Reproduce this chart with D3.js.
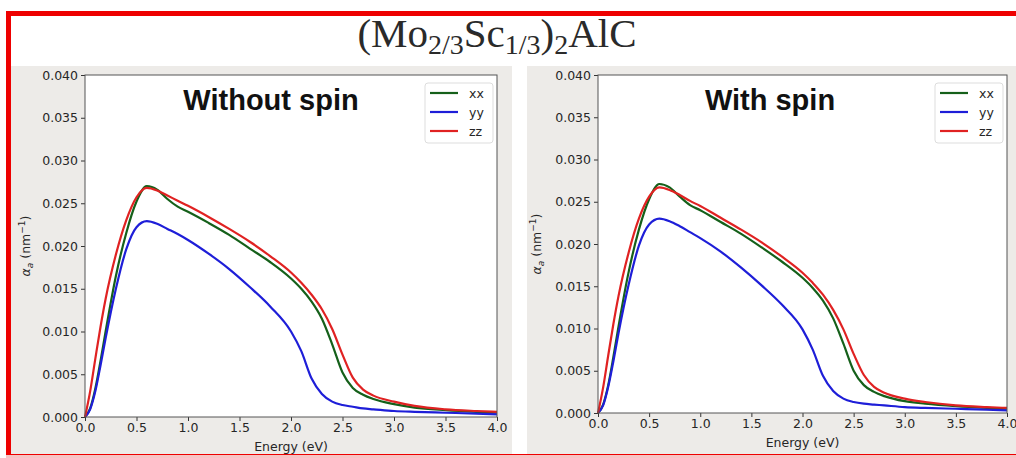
<!DOCTYPE html>
<html>
<head>
<meta charset="utf-8">
<script src="https://cdn.jsdelivr.net/npm/d3@7"></script>
<style>
  html, body { margin: 0; padding: 0; background: #ffffff; }
  svg { display: block; }
</style>
</head>
<body>
<svg id="chart" width="1016" height="458"></svg>
<script>
// Photon energy grid (eV)
const energy = [0, 0.05, 0.1, 0.15, 0.2, 0.3, 0.4, 0.5, 0.6, 0.7, 0.8, 0.9, 1.0, 1.2, 1.4, 1.6, 1.8,
                2.0, 2.1, 2.2, 2.3, 2.4, 2.5, 2.6, 2.7, 2.8, 3.0, 3.2, 3.5, 3.8, 4.0];

// Absorption coefficient (nm^-1), without spin
const noSpinXX = [0, 0.0010, 0.0033, 0.0065, 0.0100, 0.0165, 0.0215, 0.0252, 0.0270, 0.0266, 0.0255, 0.0246, 0.0240, 0.0227, 0.0213, 0.0197, 0.0181,
                  0.0162, 0.0150, 0.0135, 0.0115, 0.0085, 0.0052, 0.0034, 0.0026, 0.0021, 0.0015, 0.0011, 0.0008, 0.0006, 0.0005];
const noSpinYY = [0, 0.0009, 0.0030, 0.0060, 0.0092, 0.0150, 0.0196, 0.0222, 0.0229, 0.0226, 0.0220, 0.0214, 0.0207, 0.0191, 0.0173, 0.0152, 0.0129,
                  0.0100, 0.0077, 0.0045, 0.0027, 0.0018, 0.0014, 0.0012, 0.0010, 0.0009, 0.0007, 0.0006, 0.0005, 0.0004, 0.0003];
const noSpinZZ = [0, 0.0030, 0.0068, 0.0105, 0.0138, 0.0190, 0.0230, 0.0257, 0.0268, 0.0265, 0.0259, 0.0253, 0.0247, 0.0234, 0.0220, 0.0205, 0.0188,
                  0.0169, 0.0157, 0.0143, 0.0126, 0.0103, 0.0073, 0.0046, 0.0032, 0.0025, 0.0018, 0.0013, 0.0009, 0.0007, 0.0006];

// Absorption coefficient (nm^-1), with spin
const spinXX = [0, 0.0010, 0.0033, 0.0066, 0.0102, 0.0167, 0.0217, 0.0253, 0.0271, 0.0267, 0.0256, 0.0246, 0.0240, 0.0226, 0.0212, 0.0196, 0.0179,
                0.0160, 0.0148, 0.0133, 0.0112, 0.0082, 0.0050, 0.0033, 0.0025, 0.0020, 0.0014, 0.0011, 0.0008, 0.0006, 0.0005];
const spinYY = [0, 0.0009, 0.0031, 0.0061, 0.0094, 0.0152, 0.0198, 0.0223, 0.0230, 0.0227, 0.0221, 0.0214, 0.0207, 0.0191, 0.0172, 0.0151, 0.0128,
                0.0099, 0.0075, 0.0044, 0.0026, 0.0017, 0.0013, 0.0011, 0.0010, 0.0009, 0.0007, 0.0006, 0.0005, 0.0004, 0.0003];
const spinZZ = [0, 0.0030, 0.0068, 0.0105, 0.0138, 0.0190, 0.0230, 0.0256, 0.0267, 0.0264, 0.0258, 0.0251, 0.0245, 0.0231, 0.0217, 0.0202, 0.0185,
                0.0166, 0.0154, 0.0140, 0.0122, 0.0099, 0.0070, 0.0045, 0.0031, 0.0024, 0.0017, 0.0013, 0.0009, 0.0007, 0.0006];

const seriesNames = ["xx", "yy", "zz"];
const seriesColors = ["#15601a", "#1e1ed8", "#e02222"];
const xTicks = [0, 0.5, 1.0, 1.5, 2.0, 2.5, 3.0, 3.5, 4.0];
const yTicks = [0, 0.005, 0.010, 0.015, 0.020, 0.025, 0.030, 0.035, 0.040];
const panelTitles = ["Without spin", "With spin"];

const svg = d3.select("#chart");
const FONT = "'DejaVu Sans', sans-serif";

// Grey figure backgrounds of the two subplots
svg.append("rect").attr("x", 11).attr("y", 66).attr("width", 501).attr("height", 390).attr("fill", "#edebe8");
svg.append("rect").attr("x", 527).attr("y", 66).attr("width", 489).attr("height", 390).attr("fill", "#edebe8");

// Red frame around the figure
svg.append("rect")
  .attr("x", 8.5).attr("y", 13.5).attr("width", 1040).attr("height", 443)
  .attr("fill", "none").attr("stroke", "#ee0000").attr("stroke-width", 5);
svg.append("rect").attr("x", 6).attr("y", 455).attr("width", 1010).attr("height", 3).attr("fill", "#f6c4c4");

// Compound name
const title = svg.append("text")
  .attr("x", 497).attr("y", 47)
  .attr("text-anchor", "middle")
  .attr("font-family", "'Liberation Serif', serif")
  .attr("font-size", 41)
  .attr("fill", "#2a2a2a");
title.append("tspan").text("(Mo");
title.append("tspan").attr("font-size", 28).attr("dy", 7).text("2/3");
title.append("tspan").attr("dy", -7).text("Sc");
title.append("tspan").attr("font-size", 28).attr("dy", 7).text("1/3");
title.append("tspan").attr("dy", -7).text(")");
title.append("tspan").attr("font-size", 28).attr("dy", 7).text("2");
title.append("tspan").attr("dy", -7).text("AlC");

const panels = [
  { left: 85, right: 497, top: 75, bottom: 417, data: [noSpinXX, noSpinYY, noSpinZZ], ylabX: 30, titleX: 271 },
  { left: 598, right: 1007, top: 75, bottom: 413, data: [spinXX, spinYY, spinZZ], ylabX: 541, titleX: 770 }
];

panels.forEach((p, pi) => {
  const x = d3.scaleLinear().domain([0, 4]).range([p.left, p.right]);
  const y = d3.scaleLinear().domain([0, 0.04]).range([p.bottom, p.top]);

  const g = svg.append("g");
  g.append("rect")
    .attr("x", p.left).attr("y", p.top)
    .attr("width", p.right - p.left).attr("height", p.bottom - p.top)
    .attr("fill", "#ffffff");

  // Curves
  const line = d3.line()
    .x((d, i) => x(energy[i]))
    .y(d => y(d))
    .curve(d3.curveMonotoneX);
  p.data.forEach((vals, si) => {
    g.append("path")
      .datum(vals)
      .attr("d", line)
      .attr("fill", "none")
      .attr("stroke", seriesColors[si])
      .attr("stroke-width", 2.2)
      .attr("stroke-linejoin", "round");
  });

  // Axes
  const xAxis = g.append("g")
    .attr("transform", `translate(0,${p.bottom})`)
    .call(d3.axisBottom(x).tickValues(xTicks).tickFormat(d3.format(".1f")).tickSizeOuter(0).tickSize(4).tickPadding(2));
  const yAxis = g.append("g")
    .attr("transform", `translate(${p.left},0)`)
    .call(d3.axisLeft(y).tickValues(yTicks).tickFormat(d3.format(".3f")).tickSizeOuter(0).tickSize(4).tickPadding(3));
  [xAxis, yAxis].forEach(a => {
    a.select(".domain").remove();
    a.selectAll("line").attr("stroke", "#333");
    a.selectAll("text").attr("font-family", FONT).attr("font-size", 12.5).attr("fill", "#262626");
  });

  // Frame
  g.append("rect")
    .attr("x", p.left).attr("y", p.top)
    .attr("width", p.right - p.left).attr("height", p.bottom - p.top)
    .attr("fill", "none").attr("stroke", "#555").attr("stroke-width", 1);

  // Axis labels
  g.append("text")
    .attr("x", (p.left + p.right) / 2).attr("y", p.bottom + 34)
    .attr("text-anchor", "middle")
    .attr("font-family", FONT).attr("font-size", 12.5).attr("fill", "#262626")
    .text("Energy (eV)");

  const yl = g.append("text")
    .attr("transform", `translate(${p.ylabX},${(p.top + p.bottom) / 2}) rotate(-90)`)
    .attr("text-anchor", "middle")
    .attr("font-family", FONT).attr("font-size", 12.5).attr("fill", "#262626");
  yl.append("tspan").attr("font-style", "italic").text("α");
  yl.append("tspan").attr("font-size", 9).attr("font-style", "italic").attr("dy", 3).text("a");
  yl.append("tspan").attr("dy", -3).text(" (nm");
  yl.append("tspan").attr("font-size", 9).attr("dy", -5).text("−1");
  yl.append("tspan").attr("dy", 5).text(")");

  // Panel heading
  g.append("text")
    .attr("x", p.titleX).attr("y", 110)
    .attr("text-anchor", "middle")
    .attr("font-family", "'Liberation Sans', Arial, sans-serif")
    .attr("font-weight", "bold").attr("font-size", 29)
    .attr("fill", "#111")
    .text(panelTitles[pi]);

  // Legend
  const lx = p.right - 72, ly = 83;
  const leg = g.append("g");
  leg.append("rect")
    .attr("x", lx).attr("y", ly).attr("width", 68).attr("height", 60)
    .attr("rx", 3)
    .attr("fill", "#ffffff").attr("stroke", "#dddddd").attr("stroke-width", 1);
  seriesNames.forEach((name, si) => {
    const yy = ly + 10 + si * 19;
    leg.append("line")
      .attr("x1", lx + 5).attr("x2", lx + 33).attr("y1", yy).attr("y2", yy)
      .attr("stroke", seriesColors[si]).attr("stroke-width", 2.2);
    leg.append("text")
      .attr("x", lx + 44).attr("y", yy + 4.5)
      .attr("font-family", FONT).attr("font-size", 12.5).attr("fill", "#262626")
      .text(name);
  });
});
</script>
</body>
</html>
